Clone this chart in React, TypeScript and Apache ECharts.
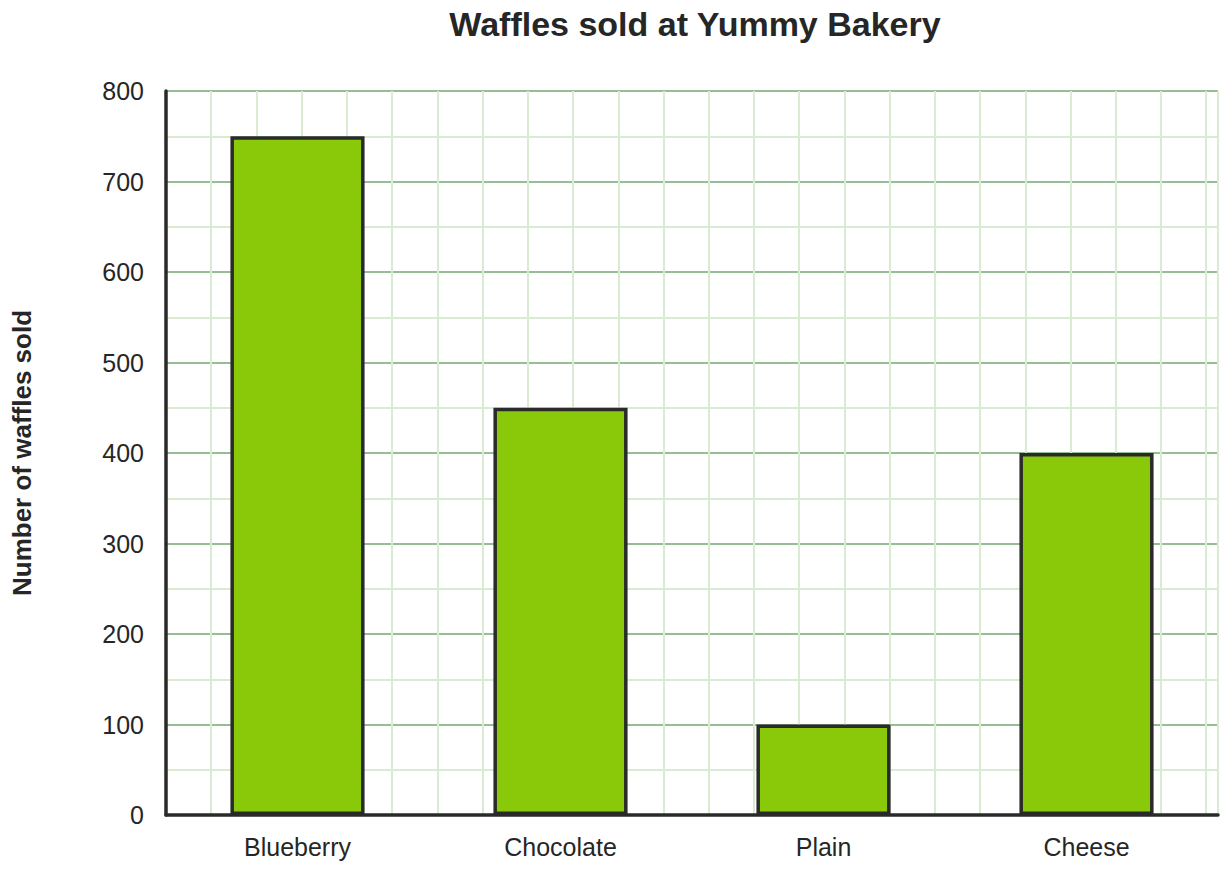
import React, { useEffect, useRef } from "react";
import * as echarts from "echarts";

const categories = ["Blueberry", "Chocolate", "Plain", "Cheese"];
const wafflesSold = [750, 450, 100, 400];
const yTicks = [0, 100, 200, 300, 400, 500, 600, 700, 800];

export default function App() {
  const ref = useRef<HTMLDivElement>(null);
  useEffect(() => {
    if (!ref.current) return;
    const chart = echarts.init(ref.current, null, { renderer: "svg" });
    const textColor = "#262626";
    const font = "'Liberation Sans', Arial, Helvetica, sans-serif";
    chart.setOption({
      animation: false,
      backgroundColor: "#ffffff",
      title: {
        text: "Waffles sold at Yummy Bakery",
        left: 690,
        textAlign: "center",
        top: 2,
        textStyle: { fontFamily: font, fontSize: 34, fontWeight: "bold", color: textColor },
      },
      grid: { left: 166, right: 10, top: 91, bottom: 55, containLabel: false },
      xAxis: [
        {
          type: "category",
          data: categories,
          position: "bottom",
          axisLine: { show: true, lineStyle: { color: "#2a2a2a", width: 3.5 } },
          axisTick: { show: false },
          axisLabel: { fontFamily: font, fontSize: 25, color: textColor, margin: 19 },
          splitLine: { show: false },
          z: 5,
        },
        {
          type: "value",
          position: "top",
          min: 0,
          max: 23.26,
          interval: 1,
          axisLine: { show: false },
          axisTick: { show: false },
          axisLabel: { show: false },
          splitLine: { show: true, lineStyle: { color: "#d9ebd0", width: 2 } },
          z: 0,
        },
      ],
      yAxis: {
        type: "value",
        min: yTicks[0],
        max: yTicks[yTicks.length - 1],
        interval: 100,
        name: "Number of waffles sold",
        nameLocation: "middle",
        nameGap: 131,
        nameTextStyle: { fontFamily: font, fontSize: 26, fontWeight: "bold", color: textColor },
        axisLine: { show: true, lineStyle: { color: "#2a2a2a", width: 3.5 } },
        axisTick: { show: false },
        axisLabel: { fontFamily: font, fontSize: 25, color: textColor, margin: 22 },
        splitLine: { show: true, lineStyle: { color: "#97bd97", width: 2 } },
        minorTick: { show: false, splitNumber: 2 },
        minorSplitLine: { show: true, lineStyle: { color: "#d9ebd0", width: 2 } },
        z: 0,
      },
      series: [
        {
          type: "bar",
          xAxisIndex: 0,
          data: wafflesSold,
          barWidth: "51%",
          itemStyle: { color: "#8ac80a", borderColor: "#2a2a2a", borderWidth: 3.5 },
          z: 3,
        },
      ],
    });
    return () => chart.dispose();
  }, []);
  return (
    <div
      ref={ref}
      style={{ position: "fixed", left: 0, top: 0, width: 1228, height: 870 }}
    />
  );
}
